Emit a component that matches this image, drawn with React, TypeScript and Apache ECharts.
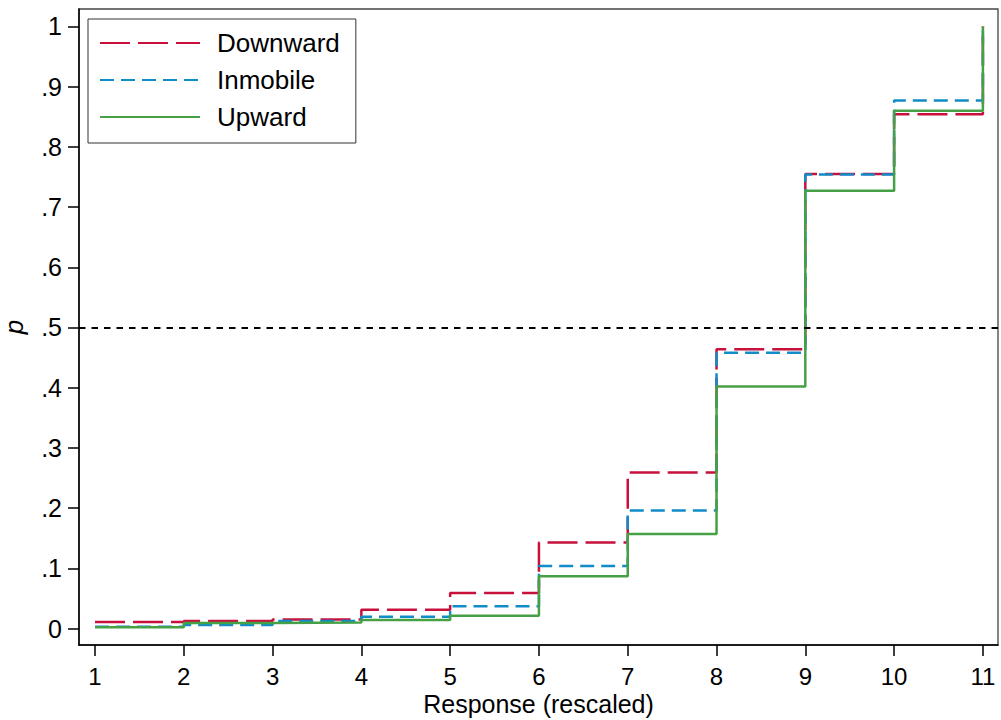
import React, { useEffect, useRef } from "react";
import * as echarts from "echarts";

const responses = [1, 2, 3, 4, 5, 6, 7, 8, 9, 10, 11];
const downward = [0.011, 0.0125, 0.015, 0.031, 0.059, 0.143, 0.259, 0.464, 0.755, 0.854, 1];
const inmobile = [0.003, 0.006, 0.0125, 0.0196, 0.037, 0.104, 0.196, 0.458, 0.754, 0.877, 1];
const upward = [0.002, 0.009, 0.01, 0.014, 0.021, 0.087, 0.157, 0.402, 0.727, 0.86, 1];
const yTicks = [0, 0.1, 0.2, 0.3, 0.4, 0.5, 0.6, 0.7, 0.8, 0.9, 1];
const yTickLabels = ["0", ".1", ".2", ".3", ".4", ".5", ".6", ".7", ".8", ".9", "1"];
const threshold = 0.5;

const FONT = "Liberation Sans, Arial, Helvetica, sans-serif";

function pairs(vals: number[]) {
  return responses.map((x, i) => [x, vals[i]]);
}

export default function App() {
  const ref = useRef<HTMLDivElement>(null);
  useEffect(() => {
    if (!ref.current) return;
    const chart = echarts.init(ref.current, undefined, { renderer: "svg" });
    const labelFor = (v: number) => {
      const i = yTicks.findIndex((t) => Math.abs(t - v) < 1e-6);
      return i >= 0 ? yTickLabels[i] : "";
    };
    chart.setOption({
      animation: false,
      backgroundColor: "#ffffff",
      textStyle: { fontFamily: FONT, color: "#000" },
      grid: {
        left: 79,
        right: 3,
        top: 9,
        bottom: 75,
        show: true,
        borderColor: "#444",
        borderWidth: 1.3,
        containLabel: false,
        outerBoundsMode: "none",
      },
      legend: {
        orient: "vertical",
        left: 88,
        top: 19,
        borderColor: "#333",
        borderWidth: 1,
        padding: [11, 16, 13, 11],
        itemWidth: 100,
        itemHeight: 26,
        itemGap: 11,
        itemStyle: { opacity: 0 },
        textStyle: {
          fontFamily: FONT,
          fontSize: 26,
          lineHeight: 26,
          color: "#000",
          padding: [0, 0, 0, 12],
        },
        data: ["Downward", "Inmobile", "Upward"],
      },
      xAxis: {
        type: "value",
        min: 0.82,
        max: 11.17,
        name: "Response (rescaled)",
        nameLocation: "middle",
        nameGap: 47,
        nameMoveOverlap: false,
        nameTextStyle: { fontFamily: FONT, fontSize: 25, lineHeight: 24, color: "#000" },
        axisLine: { show: true, onZero: false, lineStyle: { color: "#000", width: 1.5 } },
        axisTick: {
          show: true,
          length: 11,
          lineStyle: { color: "#000", width: 1.5 },
          customValues: responses,
        },
        axisLabel: {
          fontFamily: FONT,
          fontSize: 24,
          lineHeight: 22,
          color: "#000",
          margin: 20,
          customValues: responses,
          formatter: (v: number) => String(v),
        },
        splitLine: { show: false },
      },
      yAxis: {
        type: "value",
        min: -0.0274,
        max: 1.029,
        name: "p",
        nameLocation: "middle",
        nameGap: 52,
        nameMoveOverlap: false,
        nameTextStyle: { fontFamily: FONT, fontSize: 26, color: "#000", fontStyle: "italic" },
        axisLine: { show: true, onZero: false, lineStyle: { color: "#000", width: 1.5 } },
        axisTick: {
          show: true,
          length: 11,
          lineStyle: { color: "#000", width: 1.5 },
          customValues: yTicks,
        },
        axisLabel: {
          fontFamily: FONT,
          fontSize: 25,
          color: "#000",
          margin: 17,
          customValues: yTicks,
          formatter: (v: number) => labelFor(v),
        },
        splitLine: { show: false },
      },
      series: [
        {
          name: "Downward",
          type: "line",
          step: "end",
          symbol: "none",
          data: pairs(downward),
          color: "#c8103c",
          lineStyle: { color: "#c8103c", width: 2.5, type: [30, 8] },
          markLine: {
            silent: true,
            symbol: "none",
            label: { show: false },
            lineStyle: { color: "#000", width: 2.2, type: [6.5, 6] },
            data: [{ yAxis: threshold }],
          },
        },
        {
          name: "Inmobile",
          type: "line",
          step: "end",
          symbol: "none",
          data: pairs(inmobile),
          color: "#108cc8",
          lineStyle: { color: "#108cc8", width: 2.5, type: [14, 7] },
        },
        {
          name: "Upward",
          type: "line",
          step: "end",
          symbol: "none",
          data: pairs(upward),
          color: "#46a046",
          lineStyle: { color: "#46a046", width: 2.5, type: "solid" },
        },
      ],
    });
    return () => chart.dispose();
  }, []);
  return (
    <div
      ref={ref}
      style={{ position: "fixed", left: 0, top: 0, width: 1001, height: 720, background: "#fff" }}
    />
  );
}
